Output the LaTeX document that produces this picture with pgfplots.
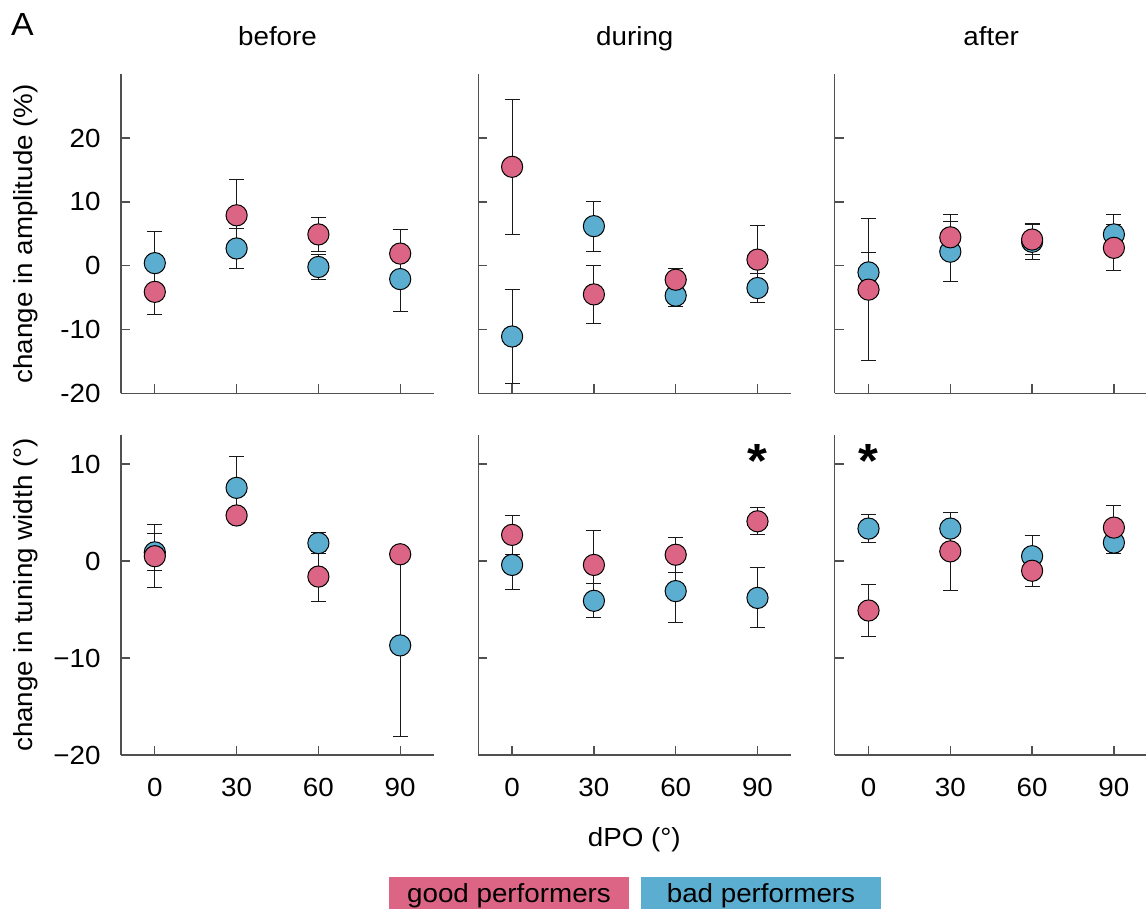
\documentclass[border=0pt]{standalone}
\usepackage{fontspec}
\setmainfont{Liberation Sans}[FakeStretch=1.06]
\usepackage{pgfplots}
\pgfplotsset{compat=1.18}
\definecolor{gpink}{HTML}{DC6585}
\definecolor{bblue}{HTML}{5BAED0}
\definecolor{axgray}{HTML}{505050}
\pgfplotsset{
  panel/.style={
    scale only axis, width=156.5pt, height=159.5pt,
    xmin=-12.4, xmax=102.4,
    axis x line=bottom, axis y line=left,
    axis line style={-, draw=axgray, line width=0.65pt},
    tick style={draw=axgray, line width=0.65pt},
    tick align=inside, major tick length=4.5pt,
    xtick={0,30,60,90},
    clip=false,
    font=\fontsize{13.1}{15}\selectfont,
    /pgf/number format/assume math mode=true,
    yticklabel style={anchor=east, inner sep=0pt, xshift=-10pt},
    xticklabel style={anchor=base, inner sep=0pt, yshift=-20.8pt},
    title style={at={(rel axis cs:0.5,1)}, anchor=base, yshift=8.65pt, inner sep=0pt},
    ylabel style={at={(rel axis cs:0,0.5)}, anchor=center, yshift=47.5pt, inner sep=0pt},
  },
  toprow/.style={ymin=-20, ymax=30, ytick={-20,-10,0,10,20}, xticklabels={}},
  botrow/.style={ymin=-20, ymax=13, ytick={-20,-10,0,10}, height=160pt,
    yticklabels={−20,−10,0,10}},
  grp/.style={only marks, mark=*, mark size=5.3pt,
    mark options={fill=#1, draw=black, line width=0.5pt},
    error bars/.cd, y dir=both, y explicit,
    error bar style={line width=0.5pt, black!90},
    error mark options={rotate=90, mark size=3.75pt, line width=0.5pt, black!90}},
}
\begin{document}
\begin{tikzpicture}
\useasboundingbox (0,0) rectangle (573pt,454.5pt);
% ---------- top row: amplitude ----------
\begin{axis}[panel, toprow, at={(60.5pt,257.85pt)}, anchor=south west,
  title={before}, ylabel={change in amplitude (\%)}]
\addplot+[grp=bblue] table[x=x, y=y, y error=e] {
x y e
0 0.4 4.9
30 2.7 3.2
60 -0.2 1.9
90 -2.1 5.1
};
\addplot+[grp=gpink] table[x=x, y=y, y error=e] {
x y e
0 -4.1 3.55
30 7.9 5.6
60 4.9 2.6
90 1.9 3.75
};
\end{axis}
\begin{axis}[panel, toprow, at={(239.15pt,257.85pt)}, anchor=south west,
  title={during}, yticklabels={}]
\addplot+[grp=bblue] table[x=x, y=y, y error=e] {
x y e
0 -11.1 7.4
30 6.2 3.9
60 -4.7 1.7
90 -3.5 2.2
};
\addplot+[grp=gpink] table[x=x, y=y, y error=e] {
x y e
0 15.5 10.6
30 -4.5 4.5
60 -2.2 1.8
90 0.95 5.3
};
\end{axis}
\begin{axis}[panel, toprow, at={(417.35pt,257.85pt)}, anchor=south west,
  title={after}, yticklabels={}]
\addplot+[grp=bblue] table[x=x, y=y, y error=e] {
x y e
0 -1.05 3.15
30 2.2 4.7
60 3.75 2.85
90 4.9 3.1
};
\addplot+[grp=gpink] table[x=x, y=y, y error=e] {
x y e
0 -3.75 11.15
30 4.45 3.5
60 4.1 2.4
90 2.8 3.6
};
\end{axis}
% ---------- bottom row: tuning width ----------
\begin{axis}[panel, botrow, at={(60.5pt,77pt)}, anchor=south west,
  ylabel={change in tuning width (°)}]
\addplot+[grp=bblue] table[x=x, y=y, y error=e] {
x y e
0 0.9 1.9
30 7.55 3.25
60 1.85 1.1
90 -8.7 9.35
};
\addplot+[grp=gpink] table[x=x, y=y, y error=e] {
x y e
0 0.5 3.25
30 4.7 0.8
60 -1.6 2.6
90 0.7 0.6
};
\end{axis}
\begin{axis}[panel, botrow, at={(239.15pt,77pt)}, anchor=south west,
  yticklabels={}]
\addplot+[grp=bblue] table[x=x, y=y, y error=e] {
x y e
0 -0.4 2.55
30 -4.1 1.75
60 -3.1 3.2
90 -3.8 3.1
};
\addplot+[grp=gpink] table[x=x, y=y, y error=e] {
x y e
0 2.7 2.0
30 -0.4 3.55
60 0.65 1.8
90 4.1 1.4
};
\node[anchor=north, inner sep=0pt, font=\bfseries\fontsize{24}{24}\selectfont] at (axis cs:90,12.1) {*};
\end{axis}
\begin{axis}[panel, botrow, at={(417.35pt,77pt)}, anchor=south west,
  yticklabels={}]
\addplot+[grp=bblue] table[x=x, y=y, y error=e] {
x y e
0 3.35 1.47
30 3.35 1.7
60 0.5 2.1
90 1.9 1.1
};
\addplot+[grp=gpink] table[x=x, y=y, y error=e] {
x y e
0 -5.1 2.7
30 1.0 4.0
60 -1.0 1.6
90 3.45 2.33
};
\node[anchor=north, inner sep=0pt, font=\bfseries\fontsize{24}{24}\selectfont] at (axis cs:0,12.1) {*};
\end{axis}
% ---------- labels and legend ----------
\node[anchor=center, inner sep=0pt, font=\fontsize{16}{18}\selectfont] at (11.25pt,442.25pt) {A};
\node[anchor=base, inner sep=0pt, font=\fontsize{13.1}{15}\selectfont] at (317.15pt,31.15pt) {dPO (°)};
\fill[gpink] (194.5pt,0pt) rectangle (314.5pt,16.15pt);
\fill[bblue] (320.5pt,0pt) rectangle (440.5pt,16.15pt);
\node[anchor=base, inner sep=0pt, font=\fontsize{13.1}{15}\selectfont] at (254.5pt,3.15pt) {good performers};
\node[anchor=base, inner sep=0pt, font=\fontsize{13.1}{15}\selectfont] at (380.5pt,3.15pt) {bad performers};
\end{tikzpicture}
\end{document}
